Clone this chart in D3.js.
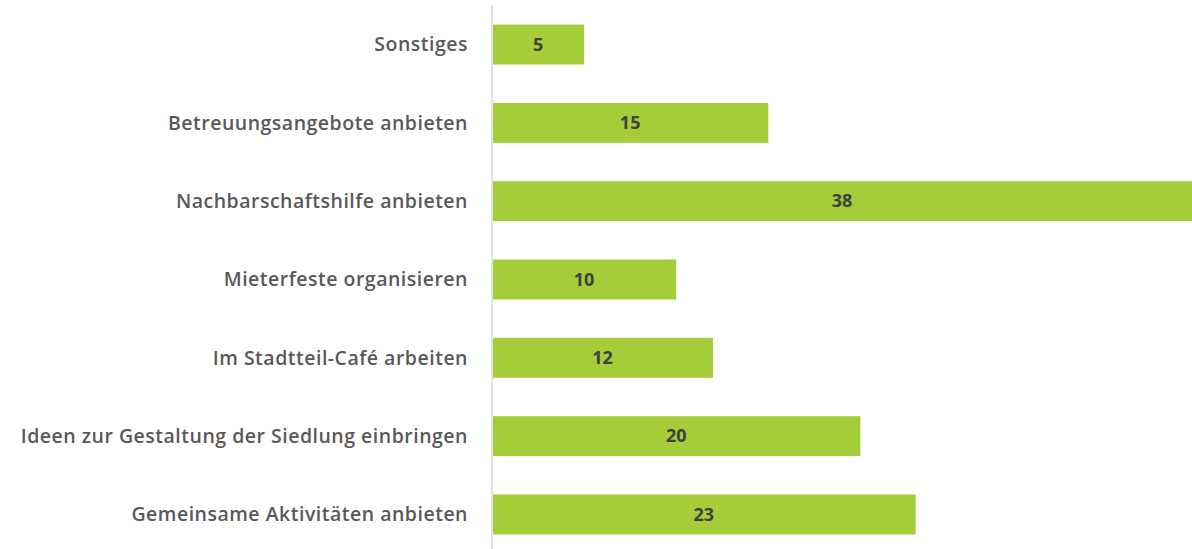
<!DOCTYPE html>
<html><head><meta charset="utf-8">
<script src="https://cdn.jsdelivr.net/npm/d3@7"></script>
<style>body{margin:0;background:#fff}svg{display:block}</style>
</head><body>
<svg id="c" width="1192" height="549"></svg>
<script>
const categories = ["Sonstiges","Betreuungsangebote anbieten","Nachbarschaftshilfe anbieten","Mieterfeste organisieren","Im Stadtteil-Café arbeiten","Ideen zur Gestaltung der Siedlung einbringen","Gemeinsame Aktivitäten anbieten"];
const values = [5,15,38,10,12,20,23];

const svg = d3.select("#c");
const x0 = 492, x1 = 1192;
const x = d3.scaleLinear().domain([0,38]).range([x0,x1]);
const y = d3.scaleBand().domain(categories).range([5,554]).paddingInner(0.49).paddingOuter(0.25);
const font = "'Open Sans', sans-serif";

svg.append("line").attr("x1",x0).attr("x2",x0).attr("y1",5).attr("y2",549)
  .attr("stroke","#d9d9d9").attr("stroke-width",1.5);

svg.selectAll("rect.bar").data(categories).join("rect").attr("class","bar")
  .attr("x",x0+1).attr("y",d=>y(d)).attr("height",y.bandwidth())
  .attr("width",(d,i)=>x(values[i])-x0-1).attr("fill","#a5cd39");

svg.selectAll("text.cat").data(categories).join("text").attr("class","cat")
  .attr("x",468).attr("y",d=>y(d)+y.bandwidth()/2).attr("dy","0.35em")
  .attr("text-anchor","end").attr("font-family",font).attr("font-weight",600)
  .attr("font-size",19.5).attr("letter-spacing",0.5).attr("fill","#595959").text(d=>d);

svg.selectAll("text.val").data(categories).join("text").attr("class","val")
  .attr("x",(d,i)=>(x0+x(values[i]))/2).attr("y",d=>y(d)+y.bandwidth()/2).attr("dy","0.35em")
  .attr("text-anchor","middle").attr("font-family",font).attr("font-weight",700)
  .attr("font-size",18).attr("fill","#404040").text((d,i)=>values[i]);
</script>
</body></html>
